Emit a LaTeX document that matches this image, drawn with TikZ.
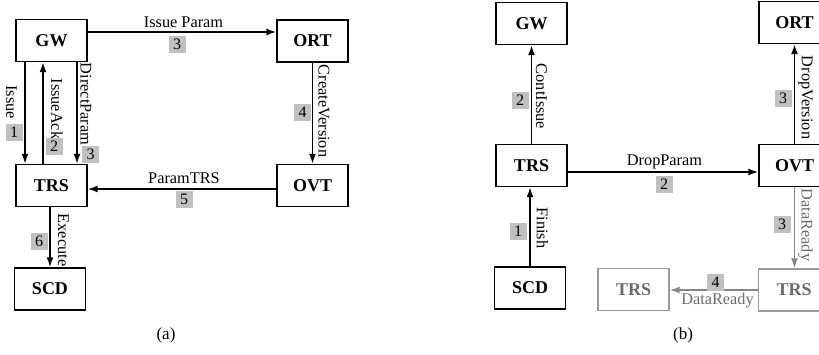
\documentclass[tikz,border=0pt]{standalone}
\usepackage{fontspec}
\setmainfont{Liberation Serif}
\usetikzlibrary{arrows.meta}
\definecolor{badgegray}{HTML}{C0C0C0}
\definecolor{boxgray}{HTML}{9A9A9A}
\definecolor{txtgray}{HTML}{6A6A6A}
\definecolor{arrgray}{HTML}{858585}
\tikzset{
  box/.style={draw, line width=1.4pt, minimum width=71pt, minimum height=42pt, inner sep=0pt,
    font=\fontsize{18}{20}\selectfont\bfseries},
  gbox/.style={box, draw=boxgray, text=txtgray},
  arr/.style={line width=1.6pt, -{Latex[length=10pt,width=7pt]}},
  garr/.style={arr, draw=arrgray},
  lbl/.style={inner sep=0pt, font=\fontsize{16.3}{17}\selectfont},
  vlbl/.style={lbl, rotate=-90},
  glbl/.style={lbl, text=txtgray},
  gvlbl/.style={vlbl, text=txtgray},
  badge/.style={fill=badgegray, minimum width=17pt, minimum height=17pt, inner sep=0pt,
    font=\fontsize{16}{17}\selectfont},
  captext/.style={inner sep=0pt, font=\fontsize{17}{18}\selectfont}
}
\begin{document}
\begin{tikzpicture}[x=1pt,y=-1pt]
\useasboundingbox (0,0) rectangle (819,354);
% ---------- panel (a) ----------
\node[box] (GWa)  at (51.5,40.5) {GW};
\node[box] (TRSa) at (51.5,185.5) {TRS};
\node[box] (SCDa) at (50,289) {SCD};
\node[box] (ORTa) at (312.5,41) {ORT};
\node[box] (OVTa) at (312.5,185.5) {OVT};

\draw[arr] ([xshift=-26.5pt]GWa.south) -- ([xshift=-26.5pt]TRSa.north);
\draw[arr] ([xshift=-8.5pt]TRSa.north) -- ([xshift=-8.5pt]GWa.south);
\draw[arr] ([xshift=25.5pt]GWa.south) -- ([xshift=25.5pt]TRSa.north);
\draw[arr] ([yshift=8.5pt]GWa.east) -- ([yshift=8.5pt]GWa.east -| ORTa.west);
\draw[arr] (ORTa.south) -- (OVTa.north);
\draw[arr] ([yshift=-3.5pt]OVTa.west) -- ([yshift=-3.5pt]TRSa.east);
\draw[arr] (TRSa.south -| SCDa.north) -- (SCDa.north);

\node[vlbl] (l1) at (11.5,102) {Issue};
\node[vlbl] (l2) at (57,109) {IssueAck};
\node[vlbl] (l3) at (86,104) {DirectParam};
\node[lbl]  (l4) at (183.5,22) {Issue Param};
\node[vlbl] (l5) at (324,111) {CreateVersion};
\node[lbl]  (l6) at (184,178) {ParamTRS};
\node[vlbl] (l7) at (63.5,240) {Execute};

\node[badge] (b1) at (14,132) {1};
\node[badge] (b2) at (54,146) {2};
\node[badge] (b3) at (90.5,154) {3};
\node[badge] (b4) at (177,44) {3};
\node[badge] (b5) at (302.5,112.5) {4};
\node[badge] (b6) at (184,199.5) {5};
\node[badge] (b7) at (39,241) {6};

\node[captext] (capa) at (166,335) {(a)};

% ---------- panel (b) ----------
\node[box] (GWb)  at (531.5,23.5) {GW};
\node[box] (TRSb) at (531.5,165.5) {TRS};
\node[box] (SCDb) at (530,288) {SCD};
\node[box] (ORTb) at (794.5,22.5) {ORT};
\node[box] (OVTb) at (794.5,165.5) {OVT};
\node[gbox] (TRSr) at (794,290) {TRS};
\node[gbox] (TRSl) at (633.5,289.5) {TRS};

\draw[arr] (TRSb.north) -- (GWb.south);
\draw[arr] (SCDb.north) -- (SCDb.north |- TRSb.south);
\draw[arr] ([yshift=-6.5pt]TRSb.east) -- ([yshift=-6.5pt]OVTb.west);
\draw[arr] (OVTb.north) -- (ORTb.south);
\draw[garr] (OVTb.south) -- (OVTb.south |- TRSr.north);
\draw[garr] (TRSr.west) -- (TRSr.west -| TRSl.east);

\node[vlbl]  (m1) at (541.5,96.5) {ContIssue};
\node[vlbl]  (m2) at (542.5,228) {Finish};
\node[lbl]   (m3) at (664.5,162) {DropParam};
\node[vlbl]  (m4) at (805.5,97.5) {DropVersion};
\node[gvlbl] (m5) at (805.5,225) {DataReady};
\node[glbl]  (m6) at (717.5,301) {DataReady};

\node[badge] (c1) at (520,100.5) {2};
\node[badge] (c2) at (518,231.5) {1};
\node[badge] (c3) at (664,184) {2};
\node[badge] (c4) at (783,98) {3};
\node[badge] (c5) at (782,224.5) {3};
\node[badge] (c6) at (715.5,282.5) {4};

\node[captext] (capb) at (683,335) {(b)};
\end{tikzpicture}
\end{document}
